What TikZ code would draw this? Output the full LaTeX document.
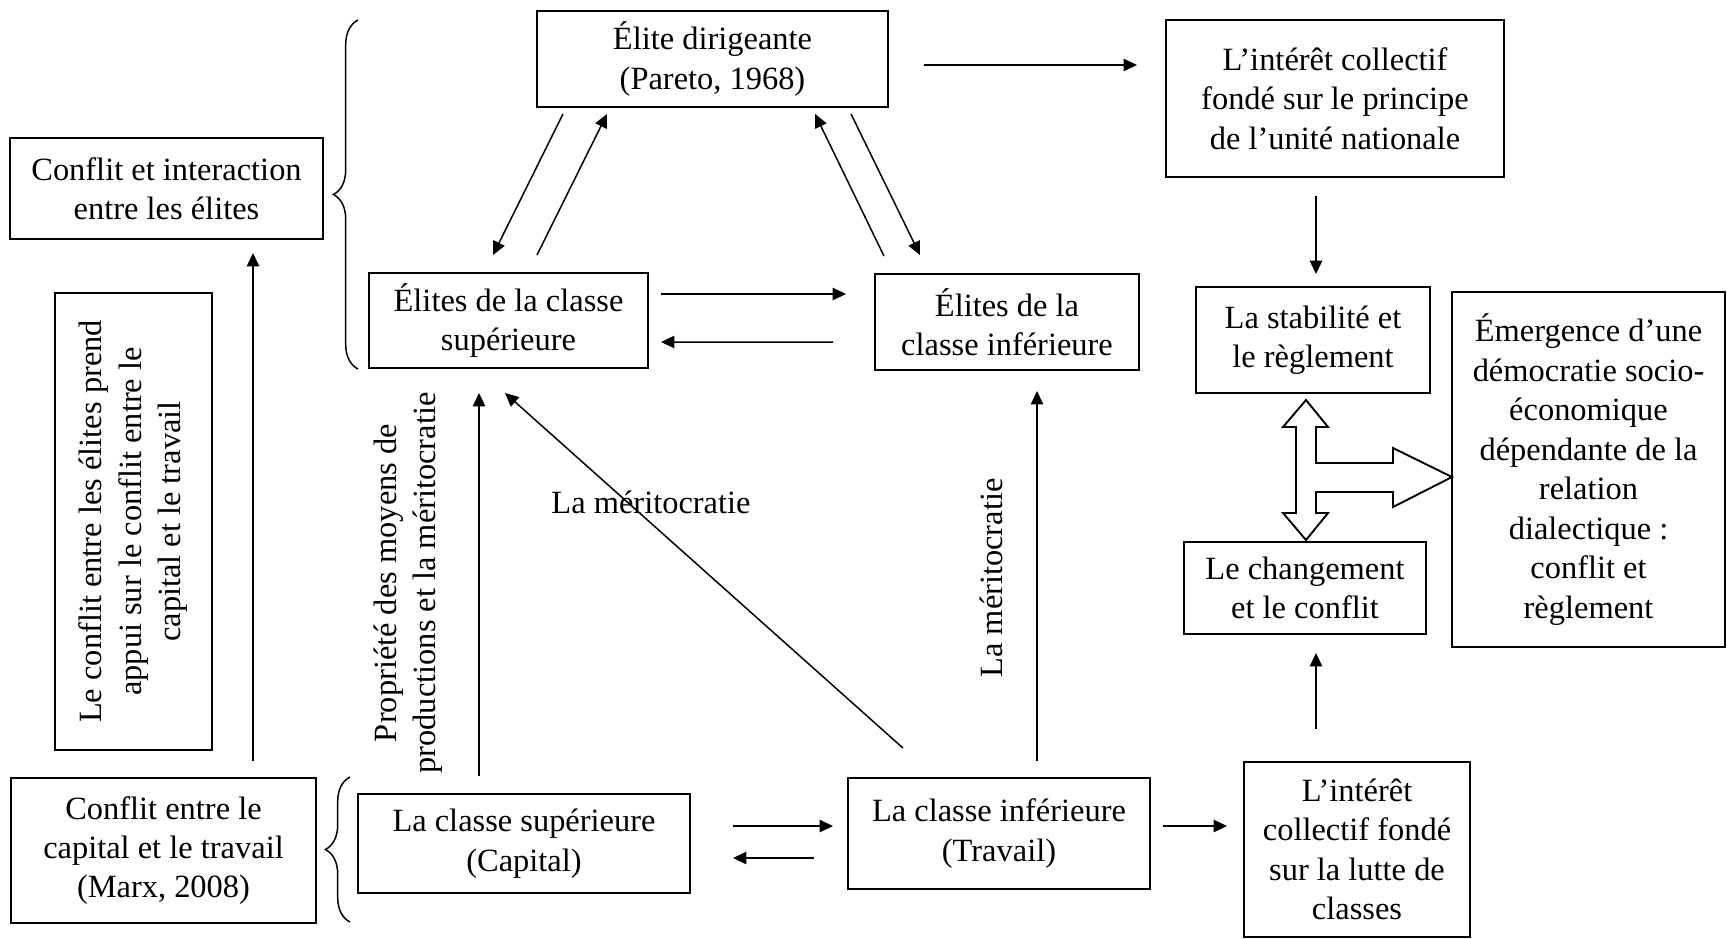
\documentclass[tikz,border=0pt]{standalone}
\usepackage{fontspec}
\setmainfont{Liberation Serif}
\usetikzlibrary{
arrows.meta,
calc,
decorations.pathreplacing,
}

\begin{document}
\begin{tikzpicture}[x=0.013cm, y=-0.013cm,
	every node/.style={font=\fontsize{12}{14.6}\selectfont},
	box/.style 2 args={draw, line width=0.7pt, align=center, inner sep=0pt, minimum width=#1*0.013cm, minimum height=#2*0.013cm},
	arr/.style={-{Triangle[length=5pt,width=4.6pt]}, line width=0.55pt},
	accolade/.style={decorate, decoration={brace, amplitude=0.32cm}, line width=0.55pt}]
			\useasboundingbox (0,0) rectangle (1727,938);

			\node[box={351}{96}] (dir) at (712.5,59) {Élite dirigeante\\(Pareto, 1968)};
			\node[box={338}{157}] (unite) at (1335,98.5) {L’intérêt collectif\\fondé sur le principe\\de l’unité nationale};
			\node[box={313}{101}] (inter) at (166.5,188.5) {Conflit et interaction\\entre les élites};
			\node[box={279}{95}] (elsup) at (508.5,320.5) {Élites de la classe\\supérieure};
			\node[box={264}{96}] (elinf) at (1007,322) {Élites de la\\classe inférieure};
			\node[box={234}{106}] (stab) at (1313,340) {La stabilité et\\le règlement};
			\node[box={273}{355}] (emerg) at (1588.5,469.5) {Émergence d’une\\démocratie socio-\\économique\\dépendante de la\\relation\\dialectique :\\conflit et\\règlement};
			\node[box={242}{92}] (chang) at (1305,588) {Le changement\\et le conflit};
			\node[box={457}{157}, rotate=90] (appui) at (133.5,521.5) {Le conflit entre les élites prend\\appui sur le conflit entre le\\capital et le travail};
			\node[box={305}{145}] (marx) at (163.5,850.5) {Conflit entre le\\capital et le travail\\(Marx, 2008)};
			\node[box={332}{99}] (clsup) at (524,843.5) {La classe supérieure\\(Capital)};
			\node[box={302}{111}] (clinf) at (999,833.5) {La classe inférieure\\(Travail)};
			\node[box={226}{175}] (lutte) at (1357,849.5) {L’intérêt\\collectif fondé\\sur la lutte de\\classes};

			\node (merit) at (651,502) {La méritocratie};
			\node[rotate=90, align=center] (prop) at (408,583) {Propriété des moyens de\\productions et la méritocratie};
			\node[rotate=90] (meritv) at (991,578) {La méritocratie};

			\draw[accolade] (358,369) -- (358,20);
			\draw[accolade] (350,922) -- (350,777);

			\draw[arr] ($(dir.east)+(35,6)$) -- ($(unite.west)+(-28,-33.5)$);
			\draw[arr] ($(dir.south)+(-149.5,6)$) -- ($(elsup.north)+(-15.5,-17)$);
			\draw[arr] ($(elsup.north)+(28.5,-17)$) -- ($(dir.south)+(-105.5,6)$);
			\draw[arr] ($(elinf.north)+(-123,-17)$) -- ($(dir.south)+(102.5,6)$);
			\draw[arr] ($(dir.south)+(138.5,6)$) -- ($(elinf.north)+(-87,-18)$);
			\draw[arr] ($(elsup.east)+(12,-26.5)$) -- ($(elinf.west)+(-28,-28)$);
			\draw[arr] ($(elinf.west)+(-41,20)$) -- ($(elsup.east)+(12,21.5)$);
			\draw[arr] ($(unite.south)+(-19,18)$) -- ($(stab.north)+(3,-12)$);
			\draw[arr] ($(clsup.north)+(-45,-17)$) -- ($(elsup.south)+(-29.5,24)$);
			\draw[arr] ($(clinf.north)+(-96,-29)$) -- ($(elsup.south)+(-3.5,24)$);
			\draw[arr] ($(clinf.north)+(38,-16)$) -- ($(elinf.south)+(30,20)$);
			\draw[arr] ($(marx.north)+(89.5,-16)$) -- ($(inter.south)+(86.5,13)$);
			\draw[arr] ($(clsup.east)+(42,-17.5)$) -- ($(clinf.west)+(-14,-7.5)$);
			\draw[arr] ($(clinf.west)+(-33,24.5)$) -- ($(clsup.east)+(42,14.5)$);
			\draw[arr] ($(clinf.east)+(12,-7.5)$) -- ($(lutte.west)+(-16,-23.5)$);
			\draw[arr] ($(lutte.north)+(-41,-32)$) -- ($(chang.south)+(11,18)$);

			\draw[line width=0.7pt, line join=miter] (1306,400) -- (1328,427) -- (1316,427) -- (1316,463) -- (1393,463) -- (1393,448) -- (1452,477) -- (1393,507) -- (1393,492) -- (1316,492) -- (1316,513) -- (1328,513) -- (1306,540) -- (1283,513) -- (1296,513) -- (1296,427) -- (1283,427) -- cycle;
		\end{tikzpicture}
\end{document}
